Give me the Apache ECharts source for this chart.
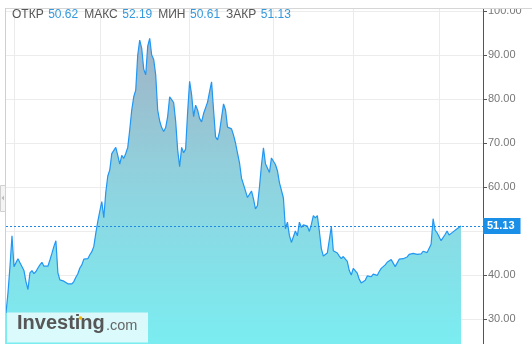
<!DOCTYPE html>
<html><head><meta charset="utf-8">
<script src="https://cdn.jsdelivr.net/npm/echarts@6/dist/echarts.min.js"></script>
<style>html,body{margin:0;padding:0;background:#fff;overflow:hidden;width:532px;height:344px}#c{position:absolute;left:0;top:0;width:532px;height:363px}</style>
</head><body><div id="c"></div>
<script>
// ---- data ----
const prices = [
31.4,36.0,42.0,48.9,41.9,41.5,43.7,42.8,43.1,41.0,38.5,36.7,40.5,41.0,40.3,40.8,41.6,42.3,42.9,42.0,
42.2,42.0,43.4,44.9,46.5,47.8,40.5,38.9,38.7,38.6,38.2,38.0,38.1,38.0,38.5,39.5,40.3,41.6,42.3,43.6,
43.4,43.7,44.6,45.3,46.5,49.5,52.2,54.5,56.7,53.0,58.8,62.5,63.9,67.6,68.0,69.0,67.2,65.2,67.2,66.5,
67.6,69.0,73.0,77.5,80.5,82.0,90.0,93.4,91.5,86.8,85.5,92.0,93.8,90.0,89.0,85.5,77.5,75.0,73.5,72.6,
73.5,76.0,80.5,80.3,79.2,75.0,68.5,64.6,69.0,67.8,68.6,77.0,84.0,81.0,76.0,78.6,77.5,75.6,74.8,76.7,
76.6,79.3,81.7,83.9,77.5,71.4,70.7,72.6,75.8,78.9,77.5,73.6,73.7,73.2,71.8,70.0,67.7,65.5,62.0,60.6,
60.2,57.6,57.3,59.1,57.3,55.0,55.8,60.0,65.0,68.9,65.3,65.4,63.3,66.6,66.2,65.1,63.7,61.0,60.8,57.5,
50.5,52.0,49.0,47.4,47.2,50.0,48.9,52.0,50.8,51.4,51.1,51.1,49.9,51.5,53.5,53.0,53.5,50.0,46.0,44.3,
44.3,45.0,45.2,51.0,45.5,45.2,45.0,44.3,43.7,44.2,44.5,43.1,41.0,40.0,41.5,41.8,40.4,39.0,38.2,38.3,
38.8,39.8,39.6,39.6,40.2,40.0,39.9,40.8,41.5,41.9,42.3,42.9,43.2,43.5,43.2,41.9,42.3,43.6,43.5,43.7,
43.8,44.1,44.7,44.6,44.9,45.3,44.7,44.5,44.8,45.4,45.7,45.1,45.1,47.0,52.8,50.2,49.6,49.5,47.8,48.2,
49.2,50.0,49.1,49.4,49.8,50.0,50.5,50.5,51.13
];
const emptySlotsAfterData = 11;
const monthStartIdx = [4, 47, 92, 134, 174, 217];
const quoteLabels = ['ОТКР', 'МАКС', 'МИН', 'ЗАКР'];
const quoteValues = ['50.62', '52.19', '50.61', '51.13'];
const lastPrice = 51.13;
const yMin = 20, yMax = 100.68, yStep = 10;

// ---- build ----
const categories = [];
for (let i = 0; i < prices.length + emptySlotsAfterData; i++) categories.push(String(i));

let headerText = '';
quoteLabels.forEach((l, i) => { headerText += '{l|' + l + '}{v|' + quoteValues[i] + '}'; });

const FONT = '"Liberation Sans", Arial, sans-serif';
const chart = echarts.init(document.getElementById('c'), null, {renderer: 'canvas', width: 532, height: 363});
chart.setOption({
  animation: false,
  backgroundColor: '#fff',
  grid: {left: 6, right: 49, top: 8, bottom: 0, containLabel: false, outerBoundsMode: 'none'},
  xAxis: {
    type: 'category', data: categories, boundaryGap: false,
    axisLine: {show: false}, axisTick: {show: false}, axisLabel: {show: false},
    splitLine: {show: true, interval: (idx) => monthStartIdx.includes(idx), lineStyle: {color: '#ebebeb', width: 1}}
  },
  yAxis: {
    type: 'value', position: 'right', min: yMin, max: yMax, interval: yStep,
    axisLine: {show: true, lineStyle: {color: '#555', width: 1}},
    axisTick: {show: true, length: 4, lineStyle: {color: '#555'}},
    axisLabel: {color: '#777', fontSize: 11, margin: 5, fontFamily: FONT, showMaxLabel: false,
      formatter: (v) => v.toFixed(2)},
    splitLine: {show: true, lineStyle: {color: '#ececec', width: 1}}
  },
  series: [{
    type: 'line', data: prices, symbol: 'none', smooth: false,
    lineStyle: {color: '#2196f3', width: 1.2},
    areaStyle: {
      opacity: 1,
      color: new echarts.graphic.LinearGradient(0, 0, 0, 1, [
        {offset: 0, color: '#a1b3c5'},
        {offset: 0.45, color: '#8fd3df'},
        {offset: 1, color: '#78f0f3'}
      ])
    },
    markLine: {
      symbol: 'none', silent: true, animation: false,
      data: [{yAxis: lastPrice}],
      lineStyle: {color: '#1e88e5', type: [2, 2], width: 1},
      label: {position: 'end', distance: 0, formatter: lastPrice.toFixed(2),
        backgroundColor: '#1a8fe8', color: '#fff', padding: [3, 6, 2, 4], fontSize: 11,
        fontFamily: FONT, fontWeight: 'bold'}
    }
  }],
  graphic: [
    {type: 'rect', z: 100, shape: {x: 0, y: 0, width: 532, height: 8}, style: {fill: '#fff'}},
    {type: 'rect', z: 100, shape: {x: 0, y: 8, width: 5, height: 355}, style: {fill: '#fff'}},
    {type: 'line', z: 101, shape: {x1: 5, y1: 8.5, x2: 532, y2: 8.5}, style: {stroke: '#d6d6d6', lineWidth: 1}},
    {type: 'line', z: 101, shape: {x1: 5.5, y1: 8, x2: 5.5, y2: 363}, style: {stroke: '#cfcfcf', lineWidth: 1}},
    {type: 'rect', z: 101, shape: {x: 0.5, y: 185.5, width: 5, height: 26}, style: {fill: '#f4f4f4', stroke: '#d0d0d0'}},
    {type: 'polygon', z: 102, shape: {points: [[1.5, 198], [4, 195.5], [4, 200.5]]}, style: {fill: '#bbb'}},
    {type: 'text', z: 102, left: 12, top: 9,
      style: {text: headerText, font: '12px ' + FONT,
        rich: {l: {fill: '#555', fontSize: 12, fontFamily: FONT, padding: [0, 4.5, 0, 0]},
               v: {fill: '#3399dd', fontSize: 12, fontFamily: FONT, padding: [0, 6, 0, 0]}}}},
    {type: 'rect', z: 102, shape: {x: 7, y: 312.5, width: 141, height: 30}, style: {fill: 'rgba(255,255,255,0.72)'}},
    {type: 'text', z: 103, x: 17, y: 333, style: {text: 'Investing', font: 'bold 20px ' + FONT, fill: '#565656', textVerticalAlign: 'bottom'}},
    {type: 'text', z: 103, x: 106, y: 333, style: {text: '.com', font: '14.5px ' + FONT, fill: '#666', textVerticalAlign: 'bottom'}},
    {type: 'circle', z: 104, shape: {cx: 80.5, cy: 318, r: 1.8}, style: {fill: '#f0b400'}}
  ]
});
</script>
</body></html>
